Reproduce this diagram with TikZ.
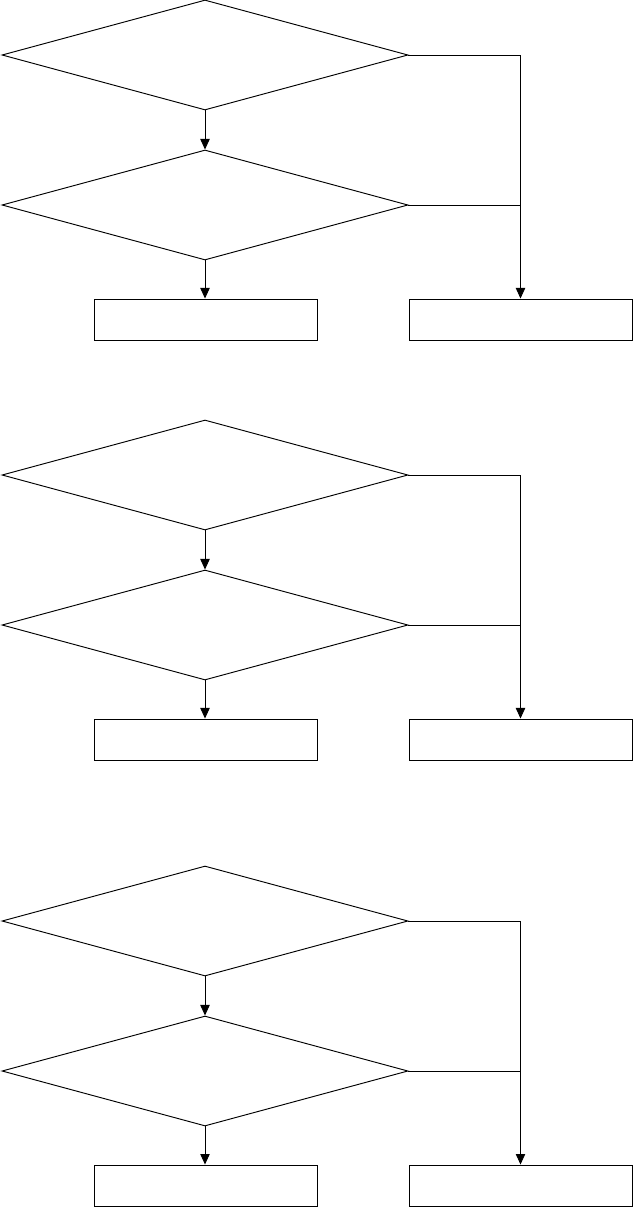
\documentclass[tikz,border=0pt]{standalone}
\usetikzlibrary{arrows.meta,positioning,shapes.geometric,calc}

\begin{document}
\begin{tikzpicture}[x=0.03cm, y=-0.03cm,
  dbox/.style={diamond, draw=black, line width=0.8pt, inner sep=0pt,
               minimum width=12.18cm, minimum height=3.3cm},
  rbox/.style={rectangle, draw=black, line width=0.8pt, inner sep=0pt,
               minimum width=6.69cm, minimum height=1.23cm},
  arr/.style={-{Triangle[length=9pt,width=8pt]}, line width=0.8pt}
]
\useasboundingbox (0,0) rectangle (633,1207);

% Block A
\node[dbox] (qa1) at (205, 55)  {};
\node[dbox] (qa2) at (205, 205) {};
\node[rbox] (la)  at (205.5, 319.5) {};
\node[rbox] (ra)  at (520.5, 319.5) {};

\draw[arr] (qa1.south) -- (qa2.north);
\draw[arr] (qa2.south) -- (qa2.south |- la.north);
\draw[arr] (qa1.east) -| (ra.north);
\draw[line width=0.8pt] (qa2.east) -- (qa2.east -| ra.north);

% Block B
\node[dbox] (qb1) at (205, 475) {};
\node[dbox] (qb2) at (205, 625) {};
\node[rbox] (lb)  at (205.5, 739.5) {};
\node[rbox] (rb)  at (520.5, 739.5) {};

\draw[arr] (qb1.south) -- (qb2.north);
\draw[arr] (qb2.south) -- (qb2.south |- lb.north);
\draw[arr] (qb1.east) -| (rb.north);
\draw[line width=0.8pt] (qb2.east) -- (qb2.east -| rb.north);

% Block C
\node[dbox] (qc1) at (205, 921)  {};
\node[dbox] (qc2) at (205, 1071) {};
\node[rbox] (lc)  at (205.5, 1185.5) {};
\node[rbox] (rc)  at (520.5, 1185.5) {};

\draw[arr] (qc1.south) -- (qc2.north);
\draw[arr] (qc2.south) -- (qc2.south |- lc.north);
\draw[arr] (qc1.east) -| (rc.north);
\draw[line width=0.8pt] (qc2.east) -- (qc2.east -| rc.north);
\end{tikzpicture}
\end{document}
